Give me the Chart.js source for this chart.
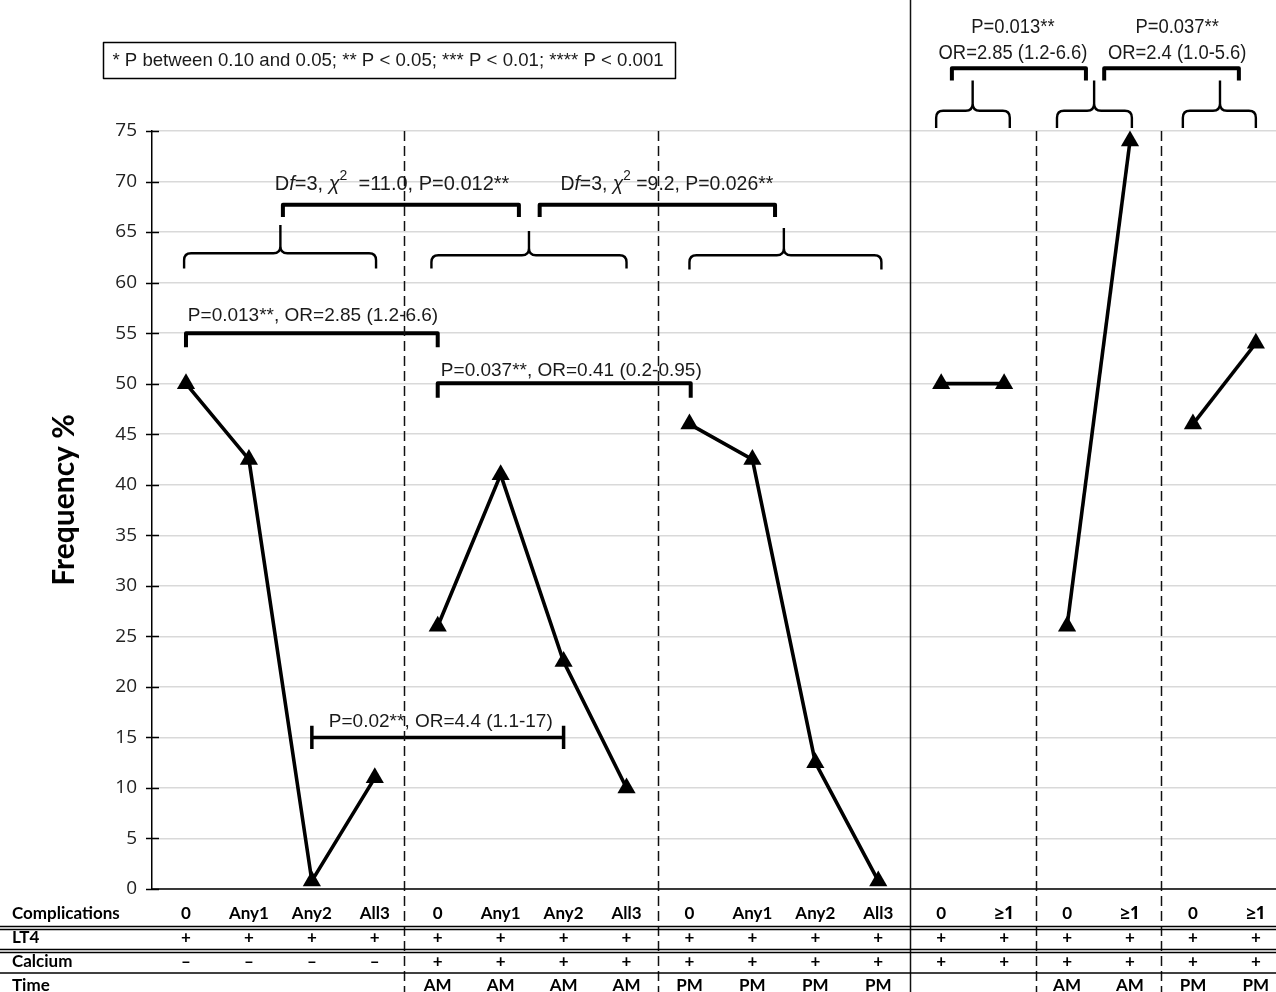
<!DOCTYPE html>
<html>
<head>
<meta charset="utf-8">
<script src="https://cdn.jsdelivr.net/npm/chart.js@4/dist/chart.umd.min.js"></script>
<style>
  html, body { margin: 0; padding: 0; background: #fff; overflow: hidden; }
  #wrap { width: 1276px; height: 992px; position: relative; }
</style>
</head>
<body>
<div id="wrap"><canvas id="chart" width="1276" height="992"></canvas></div>
<script>
// ---- data ----
const complicationsRow = ['0','Any1','Any2','All3','0','Any1','Any2','All3','0','Any1','Any2','All3','0','≥1','0','≥1','0','≥1'];
const lt4Row = ['+','+','+','+','+','+','+','+','+','+','+','+','+','+','+','+','+','+'];
const calciumRow = ['–','–','–','–','+','+','+','+','+','+','+','+','+','+','+','+','+','+'];
const timeRow = ['','','','','AM','AM','AM','AM','PM','PM','PM','PM','','','AM','AM','PM','PM'];
const rowTitles = ['Complications', 'LT4', 'Calcium', 'Time'];
const frequency = [50, 42.5, 0.8, 11, 26, 41, 22.5, 10, 46, 42.5, 12.5, 0.8, 50, 50, 26, 74, 46, 54];
const groupRanges = [[0, 3], [4, 7], [8, 11], [12, 13], [14, 15], [16, 17]];
const yMin = 0, yMax = 75, yStep = 5;
const groupDividers = [3.47, 7.5, 13.5, 15.5];
const sectionDivider = 11.51;
const significanceKey = '* P between 0.10 and 0.05; ** P < 0.05; *** P < 0.01; **** P < 0.001';

// curly braces: [from, to, tip, level, foot, tipTop]
const braces = [
  [-0.03, 3.02, 1.5, 62.9, 61.4, 65.7],
  [3.9, 7.0, 5.45, 62.7, 61.4, 65.1],
  [8.0, 11.05, 9.5, 62.7, 61.3, 65.4],
  [11.92, 13.09, 12.5, 77.0, 75.3, 80.0],
  [13.84, 15.03, 14.43, 77.0, 75.3, 80.0],
  [15.84, 17.0, 16.43, 77.0, 75.3, 80.0]
];
// square brackets: [from, to, level, foot]
const brackets = [
  [1.54, 5.29, 67.7, 66.5],
  [5.62, 9.36, 67.7, 66.5],
  [0, 4.0, 55, 53.6],
  [4.0, 8.02, 50.05, 48.6],
  [12.17, 14.3, 81.2, 80.0],
  [14.59, 16.73, 81.2, 80.0]
];
// whisker bracket: [from, to, level, cap half-height]
const whiskers = [[2.0, 6.0, 15, 1.15]];

const statLabels = [
  { x: 1.41, y: 69.75, align: 'left', size: 20, sx: 1.0, parts: [['D'], ['f', 'i'], ['=3, '], ['χ', 'i'], ['2', 'sup'], ['  =11.0, P=0.012**']] },
  { x: 5.95, y: 69.75, align: 'left', size: 20, sx: 0.97, parts: [['D'], ['f', 'i'], ['=3, '], ['χ', 'i'], ['2', 'sup'], [' =9.2, P=0.026**']] },
  { x: 0.03, y: 56.7, align: 'left', size: 19, sx: 1.0, parts: [['P=0.013**, OR=2.85 (1.2-6.6)']] },
  { x: 4.05, y: 51.25, align: 'left', size: 19, sx: 1.0, parts: [['P=0.037**, OR=0.41 (0.2-0.95)']] },
  { x: 2.27, y: 16.5, align: 'left', size: 19, sx: 1.0, parts: [['P=0.02**, OR=4.4 (1.1-17)']] },
  { x: 13.14, y: 85.2, align: 'center', size: 20, sx: 0.92, parts: [['P=0.013**']] },
  { x: 13.14, y: 82.7, align: 'center', size: 20, sx: 0.92, parts: [['OR=2.85 (1.2-6.6)']] },
  { x: 15.75, y: 85.2, align: 'center', size: 20, sx: 0.92, parts: [['P=0.037**']] },
  { x: 15.75, y: 82.7, align: 'center', size: 20, sx: 0.92, parts: [['OR=2.4 (1.0-5.6)']] }
];

const datasets = groupRanges.map(([a, b]) => {
  const pts = [];
  for (let i = a; i <= b; i++) pts.push({ x: i, y: frequency[i] });
  return {
    data: pts,
    borderColor: '#000',
    borderWidth: 3.6,
    pointStyle: 'triangle',
    pointRadius: 10.5,
    pointBackgroundColor: '#000',
    pointBorderWidth: 0,
    tension: 0,
    clip: false
  };
});

const LABEL_FONT = 'Liberation Sans, Arial, sans-serif';

function drawRich(ctx, parts, x, y, align, size, sx) {
  const fontFor = (style) => {
    if (style === 'i') return `italic ${size}px ${LABEL_FONT}`;
    if (style === 'sup') return `${Math.round(size * 0.7)}px ${LABEL_FONT}`;
    return `${size}px ${LABEL_FONT}`;
  };
  let total = 0;
  parts.forEach(([t, s]) => { ctx.font = fontFor(s); total += ctx.measureText(t).width; });
  ctx.save();
  ctx.translate(x, y);
  ctx.scale(sx, 1);
  let cx = align === 'center' ? -total / 2 : 0;
  ctx.textBaseline = 'middle';
  ctx.textAlign = 'left';
  parts.forEach(([t, s]) => {
    ctx.font = fontFor(s);
    ctx.fillText(t, cx, s === 'sup' ? -size * 0.4 : 0);
    cx += ctx.measureText(t).width;
  });
  ctx.restore();
}

const annotate = {
  id: 'annotate',
  beforeDatasetsDraw(chart) {
    const ctx = chart.ctx;
    const xs = chart.scales.x, ys = chart.scales.y;
    const px = v => xs.getPixelForValue(v);
    const py = v => ys.getPixelForValue(v);
    const area = chart.chartArea;
    const H = chart.height, W = chart.width;
    ctx.save();

    // x axis line
    ctx.strokeStyle = '#000';
    ctx.lineWidth = 1.5;
    ctx.beginPath();
    ctx.moveTo(area.left, py(0));
    ctx.lineTo(W, py(0));
    ctx.stroke();

    // y tick marks crossing the axis
    for (let v = yMin; v <= yMax; v += yStep) {
      const y = Math.round(py(v)) + 0.5;
      ctx.beginPath();
      ctx.moveTo(area.left - 6, y);
      ctx.lineTo(area.left + 7, y);
      ctx.stroke();
    }

    // curly braces
    ctx.lineWidth = 2.4;
    ctx.lineJoin = 'round';
    ctx.lineCap = 'butt';
    braces.forEach(([a, b, c, lv, foot, tip]) => {
      const x1 = px(a), x2 = px(b), xc = px(c), y = py(lv), yf = py(foot), yt = py(tip);
      const r = 7;
      ctx.beginPath();
      ctx.moveTo(x1, yf);
      ctx.lineTo(x1, y + r);
      ctx.quadraticCurveTo(x1, y, x1 + r, y);
      ctx.lineTo(xc - r, y);
      ctx.quadraticCurveTo(xc, y, xc, y - r);
      ctx.lineTo(xc, yt);
      ctx.moveTo(xc, y - r);
      ctx.quadraticCurveTo(xc, y, xc + r, y);
      ctx.lineTo(x2 - r, y);
      ctx.quadraticCurveTo(x2, y, x2, y + r);
      ctx.lineTo(x2, yf);
      ctx.stroke();
    });

    // square brackets
    ctx.lineWidth = 4;
    brackets.forEach(([a, b, lv, foot]) => {
      ctx.beginPath();
      ctx.moveTo(px(a), py(foot));
      ctx.lineTo(px(a), py(lv));
      ctx.lineTo(px(b), py(lv));
      ctx.lineTo(px(b), py(foot));
      ctx.stroke();
    });

    // whisker bracket
    ctx.lineWidth = 3.5;
    whiskers.forEach(([a, b, lv, cap]) => {
      ctx.beginPath();
      ctx.moveTo(px(a), py(lv));
      ctx.lineTo(px(b), py(lv));
      ctx.moveTo(px(a), py(lv - cap));
      ctx.lineTo(px(a), py(lv + cap));
      ctx.moveTo(px(b), py(lv - cap));
      ctx.lineTo(px(b), py(lv + cap));
      ctx.stroke();
    });

    // statistics labels
    ctx.fillStyle = '#1a1a1a';
    statLabels.forEach(l => {
      drawRich(ctx, l.parts, px(l.x), py(l.y), l.align, l.size, l.sx);
    });

    // group dividers
    ctx.strokeStyle = '#111';
    ctx.lineWidth = 1.5;
    ctx.setLineDash([10, 5]);
    groupDividers.forEach(v => {
      const x = Math.round(px(v)) + 0.5;
      ctx.beginPath();
      ctx.moveTo(x, area.top);
      ctx.lineTo(x, H);
      ctx.stroke();
    });
    ctx.setLineDash([]);
    const sx = Math.round(px(sectionDivider)) + 0.5;
    ctx.beginPath();
    ctx.moveTo(sx, 0);
    ctx.lineTo(sx, H);
    ctx.stroke();

    // significance key
    ctx.lineWidth = 1.5;
    ctx.strokeStyle = '#000';
    ctx.strokeRect(103.5, 42.5, 572, 36);
    drawRich(ctx, [[significanceKey]], 388, 61, 'center', 19, 0.98);

    // table under the axis
    const base = py(0);
    const rows = [complicationsRow, lt4Row, calciumRow, timeRow];
    const rowOffsets = [25, 49, 73, 97];
    ctx.fillStyle = '#000';
    ctx.textBaseline = 'middle';
    ctx.font = 'bold 17px Lato, sans-serif';
    rows.forEach((row, r) => {
      const y = base + rowOffsets[r];
      ctx.textAlign = 'left';
      ctx.fillText(rowTitles[r], 12, y);
      ctx.textAlign = 'center';
      row.forEach((t, i) => {
        if (!t) return;
        ctx.font = t.includes('≥') ? 'bold 17px "Open Sans", sans-serif' : 'bold 17px Lato, sans-serif';
        ctx.fillText(t, px(i), y);
      });
      ctx.font = 'bold 17px Lato, sans-serif';
    });
    ctx.strokeStyle = '#000';
    ctx.lineWidth = 1.3;
    [[37.5, 40.5], [60.5, 63.5], [84]].forEach(ls => {
      ls.forEach(o => {
        ctx.beginPath();
        ctx.moveTo(0, base + o);
        ctx.lineTo(W, base + o);
        ctx.stroke();
      });
    });

    // y axis title
    ctx.save();
    ctx.translate(64, 500);
    ctx.rotate(-Math.PI / 2);
    ctx.font = 'bold 30px Lato, sans-serif';
    ctx.textAlign = 'center';
    ctx.textBaseline = 'middle';
    ctx.fillStyle = '#000';
    ctx.fillText('Frequency %', 0, 0);
    ctx.restore();

    ctx.restore();
  }
};

new Chart(document.getElementById('chart'), {
  type: 'line',
  data: { datasets },
  options: {
    responsive: false,
    animation: false,
    devicePixelRatio: 1,
    layout: { autoPadding: false, padding: { top: 131, bottom: 103, left: 0, right: 0 } },
    plugins: { legend: { display: false }, tooltip: { enabled: false } },
    scales: {
      x: { type: 'linear', min: -0.54, max: 17.32, display: false },
      y: {
        min: yMin, max: yMax,
        ticks: { stepSize: yStep, color: '#222', padding: 15, font: { family: 'Open Sans', size: 19 } },
        grid: { color: '#d9d9d9', lineWidth: 1.5, drawTicks: false },
        border: { color: '#000', width: 1.5 },
        afterFit(scale) { scale.width = 152; }
      }
    }
  },
  plugins: [annotate]
});
</script>
</body>
</html>
